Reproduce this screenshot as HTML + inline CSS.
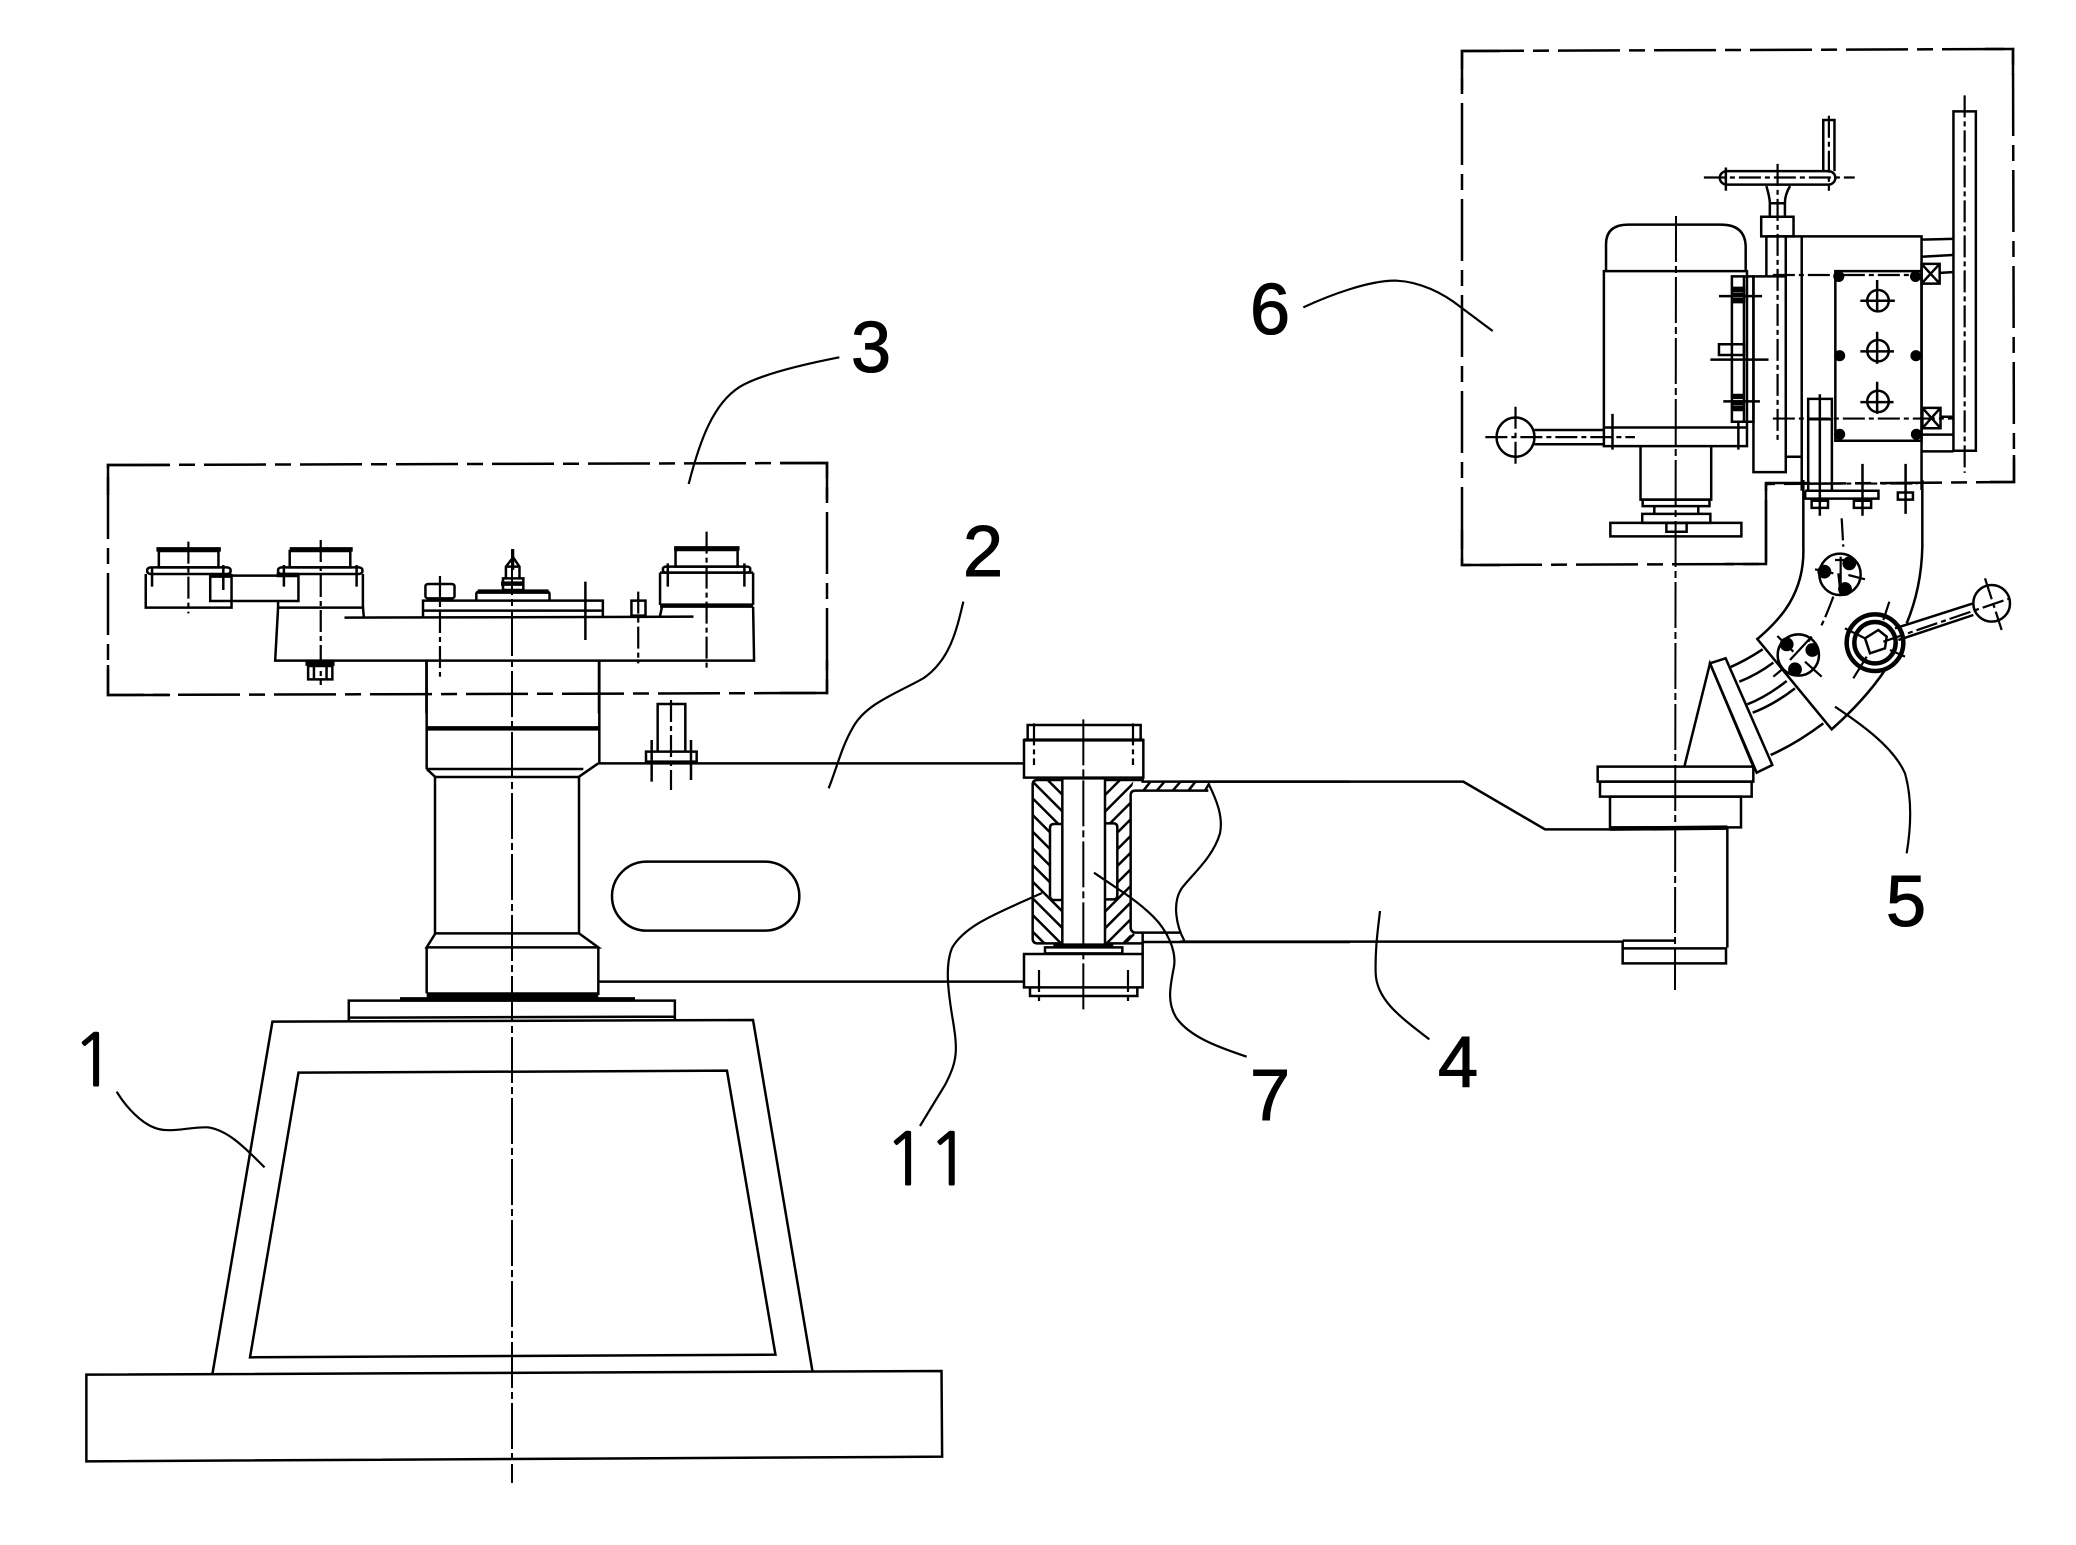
<!DOCTYPE html>
<html><head><meta charset="utf-8"><style>
html,body{margin:0;padding:0;background:#fff}
svg{display:block}
svg *{vector-effect:non-scaling-stroke}
path,line,rect,circle,ellipse,polygon,polyline{fill:none;stroke:#000;stroke-width:2.5}
.c{stroke-width:2;stroke-dasharray:46 4 7 4}
.s{stroke-width:2.2;stroke-dasharray:22 4 5 4}
.f{stroke-width:2.5;stroke-dasharray:62 9 16 9}
.t{stroke-width:4.5}
.k{fill:#000;stroke:#000}
.l{stroke-width:2.2}
text{font-family:"Liberation Sans",sans-serif;font-size:72px;fill:#000;stroke:#000;stroke-width:1.1}
.n{font-family:"NanumGothic","Liberation Sans",sans-serif}
</style></head><body>
<svg width="2076" height="1545" viewBox="0 0 2076 1545" xmlns="http://www.w3.org/2000/svg">
<rect x="0" y="0" width="2076" height="1545" style="fill:#fff;stroke:none"/>

<!-- frames -->
<path class="f" d="M108,465 L827,463 L827,693 L108,695 Z"/>
<path d="M108,495 V465 H170 M780,463 H827 V500 M827,660 V693 H780 M108,665 V695 H170"/>
<path class="f" d="M1462,51 L2013,49 L2014,482 L1766,484 L1766,564 L1462,565 Z"/>
<path d="M1462,90 V51 H1500 M1985,49 H2013 V75 M2014,455 V482 H1990 M1810,483 H1766 V564 H1725 M1500,565 H1462 V530"/>

<!-- centre lines -->
<line class="c" x1="512" y1="549" x2="512" y2="1483"/>
<line class="c" x1="1676" y1="216" x2="1675" y2="990"/>

<!-- base -->
<g transform="translate(50,1000) scale(.60606,.33333)">
<path d="M60,1124 L1471,1113 L1472,1370 L60,1384 Z"/>
<path d="M268,1122 L367,65 L1160,60 L1258,1113"/>
<path d="M410,218 L1117,212 L1197,1064 L330,1072 Z"/>
<path d="M493,62 V2 H1031 V60 M493,53 L1031,50"/>
<path class="l" d="M110,275 C125,320 150,370 175,385 C200,400 230,380 260,382 C295,390 325,450 354,502"/>
</g>

<!-- column and arm 2 -->
<g transform="translate(400,680) scale(.33333)">
<path d="M80,-60 V267 M598,-60 V248"/>
<line class="t" x1="80" y1="145" x2="597" y2="145"/>
<path d="M80,267 L105,290 M80,267 H550 M595,250 L537,290"/>
<path d="M105,291 H537 V760 H105 Z"/>
<path d="M105,762 L80,802 H595 L537,760 M80,802 V940 M595,802 V945"/>
<line class="t" x1="80" y1="945" x2="595" y2="945" style="stroke-width:5.5"/>
<line class="t" x1="0" y1="958" x2="705" y2="958"/>
<rect x="636" y="545" width="562" height="207" rx="104" ry="104"/>
<path d="M773,215 V72 H856 V215"/>
<rect x="738" y="215" width="152" height="30"/>
<path d="M755,180 V305 M873,180 V300"/>
<line class="s" x1="813" y1="60" x2="813" y2="330"/>
<path d="M595,250 H1872 M597,905 H1872"/>
</g>

<!-- head unit 3 -->
<g transform="translate(90,450) scale(.48473,.33333)">
<line class="t" x1="137" y1="298" x2="270" y2="298"/>
<rect x="142" y="303" width="123" height="49"/>
<rect x="118" y="352" width="172" height="20" rx="8"/>
<path d="M115,372 V473 H292 V372"/>
<rect x="248" y="377" width="182" height="76"/>
<line class="t" x1="248" y1="377" x2="292" y2="377"/><line class="t" x1="385" y1="375" x2="430" y2="375"/>
<line class="s" x1="203" y1="275" x2="203" y2="490"/>
<path d="M128,350 V410 M275,345 V420"/>
<line class="t" x1="412" y1="298" x2="542" y2="298"/>
<rect x="412" y="303" width="125" height="49"/>
<rect x="388" y="352" width="174" height="20" rx="8"/>
<path d="M388,453 V473 H563 V372"/>
<line class="s" x1="476" y1="270" x2="476" y2="705"/>
<path d="M400,345 V410 M550,345 V410"/>
<path d="M388,473 L382,632 H1370 L1368,470 M563,470 L565,503"/>
<line x1="525" y1="503" x2="1245" y2="500"/>
<path d="M687,500 V452 H1058 V500 M687,482 H1058"/>
<path d="M797,452 V432 Q797,423 810,423 H935 Q948,423 948,432 V452"/>
<line class="t" x1="800" y1="425" x2="946" y2="425"/>
<rect x="852" y="385" width="42" height="35"/>
<line class="t" x1="848" y1="401" x2="896" y2="401"/>
<path d="M858,383 V350 L873,322 L886,350 V383 M858,350 H886"/>
<line class="l" x1="873" y1="297" x2="873" y2="360"/>
<rect x="692" y="402" width="60" height="43" rx="6"/>
<line class="s" x1="722" y1="378" x2="722" y2="680"/>
<line x1="1022" y1="395" x2="1022" y2="570"/>
<rect x="1117" y="452" width="29" height="45"/>
<line class="s" x1="1131" y1="425" x2="1131" y2="640"/>
<line class="t" x1="1205" y1="295" x2="1340" y2="295"/>
<rect x="1208" y="300" width="128" height="50"/>
<rect x="1182" y="350" width="180" height="18" rx="6"/>
<path d="M1176,368 V465 M1368,368 V465 M1176,368 H1368 M1180,470 L1176,498"/>
<line class="t" x1="1176" y1="467" x2="1368" y2="467"/>
<line class="s" x1="1272" y1="245" x2="1272" y2="660"/>
<path d="M1192,340 V410 M1350,340 V410"/>
<rect class="k" x="447" y="636" width="55" height="8"/>
<rect x="450" y="648" width="50" height="40"/>
<path d="M462,648 V688 M488,648 V688"/>
<path d="M694,632 V790 M1050,632 V790"/>
</g>

<!-- pivot section -->
<g transform="translate(950,700) scale(.33333)">
<clipPath id="cl"><path clip-rule="evenodd" d="M248,240 H337 V730 H248 Z M300,372 H337 V600 H300 Z"/></clipPath>
<clipPath id="cr"><path clip-rule="evenodd" d="M465,240 H552 L542,275 V730 H465 Z M465,370 H502 V598 H465 Z"/></clipPath>
<g clip-path="url(#cl)"><path d="M248,195 L337,284 M248,245 L337,334 M248,295 L337,384 M248,345 L337,434 M248,395 L337,484 M248,445 L337,534 M248,495 L337,584 M248,545 L337,634 M248,595 L337,684 M248,645 L337,734 M248,695 L337,784"/></g>
<g clip-path="url(#cr)"><path d="M465,285 L552,198 M465,335 L552,248 M465,385 L552,298 M465,435 L552,348 M465,485 L552,398 M465,535 L552,448 M465,585 L552,498 M465,635 L552,548 M465,685 L552,598 M465,735 L552,648 M465,785 L552,698"/></g>
<rect x="222" y="120" width="358" height="113"/>
<line class="t" style="stroke-width:3.2" x1="222" y1="120" x2="580" y2="120"/>
<path d="M233,120 V75 H572 V120"/>
<line class="s" x1="252" y1="70" x2="252" y2="195"/><line class="s" x1="549" y1="70" x2="549" y2="195"/>
<line class="c" x1="400" y1="58" x2="400" y2="930"/>
<path d="M337,240 H262 Q248,240 248,254 V716 Q248,730 262,730 H337"/>
<rect x="337" y="235" width="128" height="500"/>
<path d="M337,372 H312 Q300,372 300,384 V588 Q300,600 312,600 H337"/>
<path d="M465,370 H490 Q502,370 502,382 V586 Q502,598 490,598 H465"/>
<path d="M465,240 H578 V245 H1200"/>
<path d="M775,272 H556 Q542,272 542,286 V682 Q542,696 556,698 H690"/>
<path d="M465,730 H578 M578,726 H1200"/>
<path d="M580,272 L600,247 M620,272 L642,247 M668,272 L690,247 M715,272 L735,247 M765,272 L778,250 M530,725 L552,702 M578,700 V762"/>
<path class="l" d="M775,250 C800,300 820,350 810,400 C790,470 730,520 695,565 C665,610 680,680 703,722"/>
<path class="l" d="M432,518 C500,565 560,600 610,650 C650,690 680,750 672,800 C660,860 650,910 680,955 C720,1010 800,1040 890,1070"/>
<rect x="285" y="742" width="232" height="18"/>
<line class="t" x1="310" y1="737" x2="490" y2="737"/>
<rect x="222" y="762" width="356" height="100"/>
<path d="M240,862 V888 H562 V862"/>
<line class="s" x1="267" y1="810" x2="267" y2="905"/><line class="s" x1="534" y1="810" x2="534" y2="905"/>
</g>
<path class="l" d="M1042,893 L1033,897 C1000,912 965,925 952,948 C945,965 948,990 952,1015 C958,1050 958,1060 945,1085 L920,1126"/>

<!-- arm 4 -->
<g transform="translate(1180,760) scale(.33333)">
<path d="M0,65 H850 L1095,208 H1290 M0,545 H1330"/>
<path class="l" d="M600,453 C595,500 585,560 587,640 C590,720 660,770 748,838"/>
</g>

<!-- hub and angle bracket -->
<g transform="translate(1560,480) scale(.33333)">
<rect x="113" y="860" width="467" height="45"/>
<rect x="120" y="905" width="455" height="45"/>
<rect x="150" y="950" width="393" height="92"/>
<line class="t" x1="150" y1="1046" x2="502" y2="1043"/>
<path d="M502,1042 V1403 M188,1382 H345 M188,1382 V1450 H498 V1405 H188"/>
<path d="M373,860 L450,550 L580,860"/>
<polygon points="450,550 497,535 637,855 590,878"/>
<path d="M510,562 Q560,540 608,508 M538,605 Q590,585 640,548 M562,673 Q620,650 680,603 M578,698 Q640,675 705,625 M632,825 Q710,790 790,730"/>
<path d="M1087,0 V200 C1085,290 1065,370 1040,430 M975,570 C935,630 880,690 815,748 L592,477 C660,420 735,340 730,200 V0"/>
<path class="l" d="M825,680 C900,730 1000,800 1035,880 C1055,950 1055,1030 1040,1120"/>
<path class="s" d="M845,115 L850,200"/>
</g>
<g transform="translate(1770,540) scale(.33333)">
<circle cx="210" cy="103" r="62"/>
<circle class="k" cx="163" cy="95" r="17"/><circle class="k" cx="238" cy="70" r="17"/><circle class="k" cx="225" cy="147" r="17"/>
<path class="l" d="M135,88 L190,100 M195,60 H250 M212,50 V130 M235,105 L285,118 M205,100 L212,165"/>
<circle cx="85" cy="345" r="62"/>
<circle class="k" cx="50" cy="313" r="17"/><circle class="k" cx="127" cy="330" r="17"/><circle class="k" cx="75" cy="388" r="17"/>
<path class="l" d="M22,288 L70,335 M105,365 L155,410 M125,290 L60,360 M40,385 L10,410"/>
<circle cx="315" cy="308" r="85" style="stroke-width:4.5"/>
<circle cx="315" cy="308" r="62" style="stroke-width:4.5"/>
<polygon points="285,295 325,270 350,290 345,325 300,340"/>
<path d="M375,265 L610,190 M385,300 L610,225"/>
<circle cx="665" cy="190" r="55"/>
<path class="s" d="M340,305 L720,175"/>
<path class="s" d="M645,115 L695,270"/>
<path class="l" d="M358,185 L340,240 M290,350 L250,415 M225,265 L285,295 M360,330 L405,350"/>
<path class="s" d="M190,170 Q170,225 150,265 M125,290 L115,305"/>
</g>

<!-- grinding unit 6 -->
<g transform="translate(1400,30) scale(.43103,.35714)">
<path d="M478,672 V600 Q478,545 530,545 H745 Q800,545 802,605 V672"/>
<rect x="473" y="675" width="332" height="490"/>
<line x1="473" y1="1113" x2="805" y2="1113"/>
<path d="M558,1165 V1315 H722 V1165"/>
<rect x="563" y="1315" width="155" height="18"/>
<path d="M590,1333 V1355 M692,1333 V1355"/>
<rect x="562" y="1355" width="158" height="25"/>
<rect x="488" y="1380" width="304" height="38"/>
<rect x="618" y="1380" width="47" height="25"/>
<ellipse cx="268" cy="1140" rx="44" ry="55"/>
<path d="M312,1120 H473 M312,1160 H473"/>
<line class="s" x1="198" y1="1140" x2="545" y2="1140"/>
<line class="s" x1="268" y1="1055" x2="268" y2="1215"/>
<path d="M493,1075 V1175 M785,1100 V1175"/>
<rect x="820" y="690" width="75" height="548"/>
<rect x="770" y="690" width="50" height="407"/>
<line x1="798" y1="690" x2="798" y2="1097"/>
<rect x="740" y="880" width="58" height="30"/>
<rect class="k" x="773" y="722" width="25" height="8"/><rect class="k" x="773" y="738" width="25" height="8"/><rect class="k" x="773" y="754" width="25" height="8"/>
<rect class="k" x="775" y="1022" width="22" height="8"/><rect class="k" x="775" y="1040" width="22" height="8"/><rect class="k" x="775" y="1056" width="22" height="8"/>
<path d="M740,745 H840 M720,923 H855 M750,1040 H835"/>
<path d="M850,578 V690 M895,578 V690 M850,578 H1210 V1288 M932,578 V1290 M895,1195 H932"/>
<rect x="838" y="523" width="75" height="55"/>
<path d="M858,523 V485 H893 V523 M850,437 Q858,470 858,485 M905,437 Q893,460 893,485"/>
<rect x="742" y="395" width="268" height="38" rx="16" ry="19"/>
<path d="M982,395 V252 H1008 V395"/>
<line class="s" x1="705" y1="413" x2="1055" y2="413"/>
<line class="s" x1="876" y1="375" x2="876" y2="1150"/>
<line class="s" x1="995" y1="240" x2="995" y2="450"/>
<line x1="756" y1="385" x2="756" y2="450"/>
<rect x="1010" y="675" width="200" height="475"/>
<ellipse class="k" cx="1018" cy="690" rx="10" ry="12"/><ellipse class="k" cx="1196" cy="690" rx="10" ry="12"/>
<ellipse class="k" cx="1020" cy="912" rx="10" ry="12"/><ellipse class="k" cx="1197" cy="912" rx="10" ry="12"/>
<ellipse class="k" cx="1020" cy="1132" rx="10" ry="12"/><ellipse class="k" cx="1198" cy="1132" rx="10" ry="12"/>
<ellipse cx="1109" cy="758" rx="25" ry="30"/><ellipse cx="1109" cy="898" rx="25" ry="30"/><ellipse cx="1109" cy="1040" rx="25" ry="30"/>
<path d="M1068,758 H1148 M1107,700 V790 M1068,900 H1146 M1107,845 V935 M1068,1042 H1145 M1107,985 V1075"/>
<line class="s" x1="865" y1="686" x2="1210" y2="686"/>
<line class="s" x1="865" y1="1088" x2="1285" y2="1088"/>
<rect x="1210" y="655" width="42" height="55"/><path d="M1210,655 L1252,710 M1252,655 L1210,710"/>
<rect x="1212" y="1058" width="42" height="57"/><path d="M1212,1058 L1254,1115 M1254,1058 L1212,1115"/>
<rect x="1284" y="228" width="52" height="950"/>
<line class="s" x1="1310" y1="183" x2="1310" y2="1240"/>
<path d="M1210,587 L1282,585 M1210,635 L1282,630 M1252,680 L1282,678 M1254,1083 H1285 M1210,1133 H1284 M1210,1180 H1284"/>
<rect x="947" y="1033" width="55" height="257"/>
<line x1="947" y1="1090" x2="1002" y2="1090"/>
<path d="M940,1290 V1312 H1110 V1290 H940"/>
<rect x="955" y="1318" width="38" height="20"/><rect x="1053" y="1318" width="40" height="20"/><rect x="1155" y="1295" width="35" height="20"/>
<path d="M974,1020 V1360 M1073,1215 V1360 M1173,1215 V1355"/>
<line class="s" x1="975" y1="1270" x2="1200" y2="1270"/>
</g>

<!-- leaders -->
<g transform="translate(1230,250) scale(.33333)"><path class="l" d="M220,172 C300,135 420,90 500,92 C570,95 640,130 690,170 L788,243"/></g>
<g transform="translate(650,300) scale(.33333)">
<path class="l" d="M568,172 C450,195 330,225 270,260 C190,310 150,420 116,552"/>
<path class="l" d="M940,905 C920,990 900,1080 820,1135 C740,1180 650,1210 610,1280 C575,1340 565,1390 536,1465"/>
</g>

<!-- labels -->
<text x="851" y="372">3</text>
<text x="963" y="576">2</text>
<text x="1250" y="334">6</text>
<text x="1886" y="926">5</text>
<text x="1250" y="1120">7</text>
<text x="1438" y="1087">4</text>
<text class="n" x="72" y="1086">1</text>
<text class="n" x="884" y="1185">11</text>
</svg>
</body></html>
